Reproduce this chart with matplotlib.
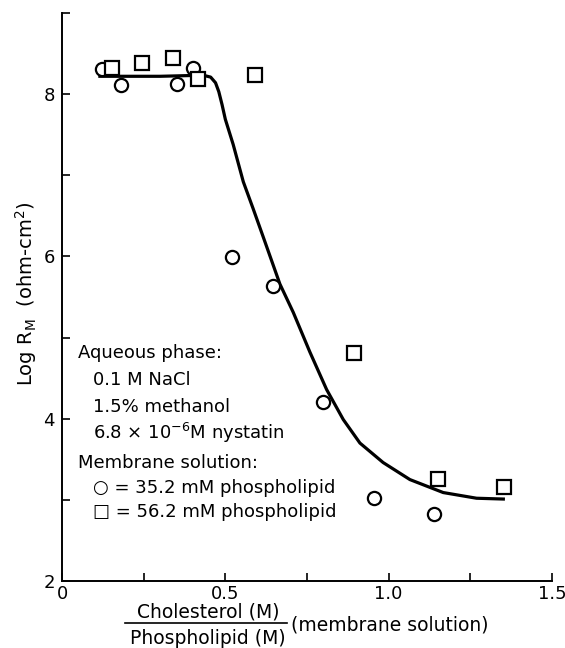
import numpy as np
import matplotlib.pyplot as plt

plt.rcParams['font.family'] = 'DejaVu Sans'
sizel = 13

# 35.2 mM phospholipid (circles)
x_circ = [0.121, 0.181, 0.353, 0.402, 0.521, 0.646, 0.798, 0.955, 1.139]
y_circ = [8.31, 8.11, 8.12, 8.32, 5.99, 5.64, 4.21, 3.02, 2.83]

# 56.2 mM phospholipid (squares)
x_sq = [0.154, 0.244, 0.339, 0.415, 0.591, 0.894, 1.150, 1.353]
y_sq = [8.32, 8.38, 8.44, 8.19, 8.24, 4.81, 3.26, 3.16]

# hand drawn curve
x_fit = [0.116, 0.20, 0.30, 0.40, 0.435, 0.455, 0.470, 0.480, 0.490, 0.500,
         0.524, 0.555, 0.585, 0.616, 0.667, 0.708, 0.759, 0.810, 0.861,
         0.912, 0.983, 1.065, 1.167, 1.269, 1.351]
y_fit = [8.22, 8.22, 8.22, 8.23, 8.23, 8.21, 8.14, 8.03, 7.87, 7.69,
         7.38, 6.92, 6.59, 6.24, 5.66, 5.31, 4.82, 4.36, 3.99,
         3.70, 3.46, 3.25, 3.09, 3.02, 3.01]

legend_lines = ['Aqueous phase:', '0.1 M NaCl', '1.5% methanol',
                r'6.8 $\times$ 10$^{-6}$M nystatin', 'Membrane solution:',
                u'\u25cb = 35.2 mM phospholipid', u'\u25a1 = 56.2 mM phospholipid']
legend_indent = [0, 1, 1, 1, 0, 1, 1]
legend_ypix = [353, 380, 407, 433, 463, 488, 512]

fig = plt.figure(figsize=(5.65, 6.48), dpi=100)
ax = fig.add_axes([62/565., 1-581/648., 490/565., 568/648.])

ax.plot(x_fit, y_fit, '-', color='black', lw=2.3, zorder=2)
ax.plot(x_circ, y_circ, 'o', mfc='white', mec='black', mew=1.6, ms=9.5, zorder=3)
ax.plot(x_sq, y_sq, 's', mfc='white', mec='black', mew=1.6, ms=9.5, zorder=3)

ax.set_xlim(0, 1.5)
ax.set_ylim(2, 9)
ax.spines['top'].set_visible(False)
ax.spines['right'].set_visible(False)
ax.spines['left'].set_linewidth(1.4)
ax.spines['bottom'].set_linewidth(1.4)

ax.set_xticks(np.arange(0, 1.51, 0.25))
ax.set_xticklabels(['0', '', '0.5', '', '1.0', '', '1.5'])
ax.set_yticks(np.arange(2, 10, 1))
ax.set_yticklabels(['2', '', '4', '', '6', '', '8', ''])
ax.tick_params(axis='both', direction='in', length=6, width=1.2, labelsize=sizel)
ax.tick_params(axis='y', pad=5)
ax.tick_params(axis='x', pad=3)

# y label
fig.text(26/565., 1-294/648., r'Log R$_\mathrm{M}$  (ohm-cm$^2$)', rotation=90,
         ha='center', va='center', fontsize=sizel+1)

# fraction style x label
fig.text(208/565., 1-612/648., 'Cholesterol (M)', ha='center', va='center', fontsize=sizel+0.5)
fig.text(208/565., 1-639/648., 'Phospholipid (M)', ha='center', va='center', fontsize=sizel+0.5)
fig.add_artist(plt.Line2D([125/565., 287/565.], [1-623/648., 1-623/648.],
                          color='black', lw=1.2))
fig.text(291/565., 1-625/648., '(membrane solution)', ha='left', va='center', fontsize=sizel+0.5)

for t in range(len(legend_lines)):
    xp = 78 if legend_indent[t] == 0 else 93
    fig.text(xp/565., 1-legend_ypix[t]/648., legend_lines[t], ha='left', va='center',
             fontsize=sizel)

fig.savefig('out.png', dpi=100)
